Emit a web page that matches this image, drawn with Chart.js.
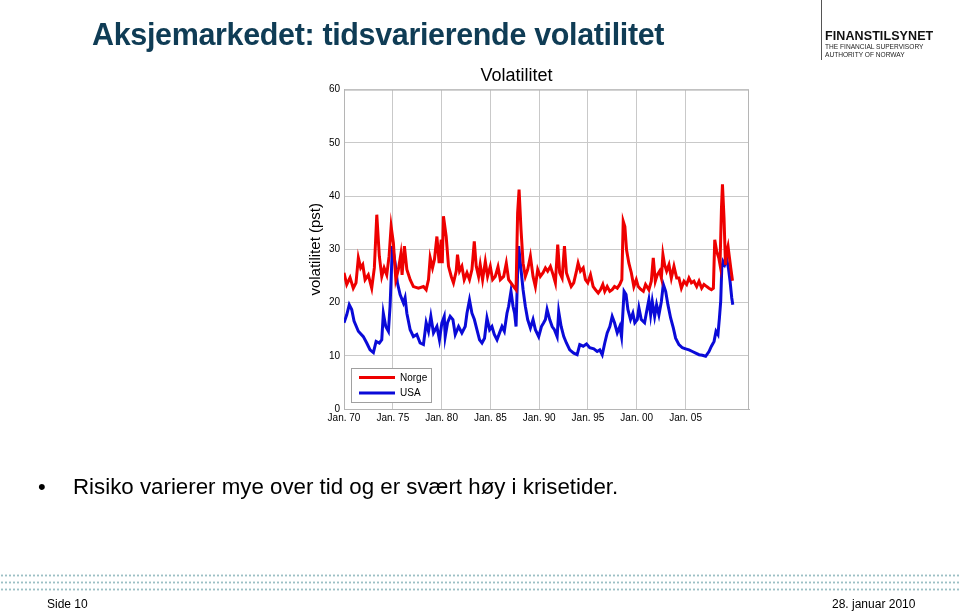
<!DOCTYPE html>
<html>
<head>
<meta charset="utf-8">
<title>Aksjemarkedet: tidsvarierende volatilitet</title>
<script src="https://cdn.jsdelivr.net/npm/chart.js@4/dist/chart.umd.min.js"></script>
<style>
  html, body { margin: 0; padding: 0; background: #fff; }
  body { width: 960px; height: 611px; position: relative; overflow: hidden; font-family: "Liberation Sans", Arial, sans-serif; }
  #wrap { position: absolute; left: 0; top: 0; width: 960px; height: 611px; }
  .abs { position: absolute; white-space: nowrap; }
  #title { left: 92px; top: 17px; font-size: 30.5px; font-weight: bold; color: #0f3c55; letter-spacing: -0.35px; }
  #logoLine { left: 821px; top: 0; width: 1px; height: 60px; background: #555; }
  #logo1 { left: 825px; top: 29px; font-size: 12.5px; font-weight: bold; letter-spacing: 0.1px; color: #111; }
  #logo2 { left: 825px; top: 43px; font-size: 6.6px; color: #222; line-height: 8px; }
  #bullet { left: 38px; top: 474px; font-size: 22px; }
  #bulletText { left: 73px; top: 474px; font-size: 22.3px; color: #000; }
  .dots { left: 0; width: 960px; height: 3px;
    background-image: radial-gradient(circle, #9cc0c5 1px, transparent 1.2px);
    background-size: 4px 3px; }
  #footL { left: 47px; top: 597px; font-size: 12px; }
  #footR { left: 832px; top: 597px; font-size: 12px; }
</style>
</head>
<body>
<div id="wrap"><canvas id="vol"></canvas></div>
<div class="abs" id="title">Aksjemarkedet: tidsvarierende volatilitet</div>
<div class="abs" id="logoLine"></div>
<div class="abs" id="logo1">FINANSTILSYNET</div>
<div class="abs" id="logo2">THE FINANCIAL SUPERVISORY<br>AUTHORITY OF NORWAY</div>
<div class="abs" id="bullet">•</div>
<div class="abs" id="bulletText">Risiko varierer mye over tid og er svært høy i krisetider.</div>
<div class="abs dots" style="top:574px"></div>
<div class="abs dots" style="top:581px"></div>
<div class="abs dots" style="top:588px"></div>
<div class="abs" id="footL">Side 10</div>
<div class="abs" id="footR">28. januar 2010</div>

<script>
// Norge, volatilitet (pst)
const norYears = [1970.00, 1970.28, 1970.62, 1970.95, 1971.23, 1971.47, 1971.71, 1971.92, 1972.16, 1972.49,
  1972.84, 1973.11, 1973.36, 1973.62, 1973.87, 1974.11, 1974.38, 1974.62, 1974.83, 1975.06,
  1975.31, 1975.57, 1975.82, 1975.95, 1976.19, 1976.44, 1976.78, 1977.11, 1977.63, 1978.14,
  1978.42, 1978.66, 1978.83, 1979.07, 1979.27, 1979.52, 1979.75, 1979.96, 1980.07, 1980.19,
  1980.47, 1980.71, 1980.99, 1981.22, 1981.50, 1981.63, 1981.84, 1982.08, 1982.32, 1982.60,
  1982.86, 1983.11, 1983.35, 1983.55, 1983.79, 1983.96, 1984.20, 1984.48, 1984.71, 1984.99,
  1985.23, 1985.50, 1985.78, 1986.02, 1986.36, 1986.63, 1986.87, 1987.11, 1987.38, 1987.63,
  1987.79, 1987.94, 1988.14, 1988.35, 1988.58, 1988.82, 1989.10, 1989.37, 1989.61, 1989.85,
  1990.12, 1990.40, 1990.64, 1990.87, 1991.15, 1991.43, 1991.66, 1991.90, 1992.10, 1992.35,
  1992.59, 1992.79, 1993.03, 1993.28, 1993.54, 1993.82, 1993.99, 1994.23, 1994.51, 1994.74,
  1994.98, 1995.26, 1995.53, 1995.77, 1996.05, 1996.28, 1996.52, 1996.72, 1996.97, 1997.24,
  1997.48, 1997.72, 1998.00, 1998.26, 1998.47, 1998.61, 1998.78, 1998.95, 1999.19, 1999.44,
  1999.70, 1999.95, 2000.15, 2000.39, 2000.67, 2000.90, 2001.24, 2001.49, 2001.69, 2001.90,
  2002.10, 2002.34, 2002.52, 2002.68, 2002.85, 2003.06, 2003.30, 2003.54, 2003.81, 2004.09,
  2004.32, 2004.57, 2004.84, 2005.11, 2005.35, 2005.60, 2005.86, 2006.14, 2006.38, 2006.65,
  2006.89, 2007.17, 2007.40, 2007.65, 2007.85, 2007.99, 2008.19, 2008.40, 2008.53, 2008.68,
  2008.78, 2008.94, 2009.09, 2009.22, 2009.35, 2009.50, 2009.63, 2009.81];
const norVals = [25.6, 23.4, 24.7, 22.7, 23.7, 28.4, 26.5, 27.1, 24.3, 25.2,
  22.7, 26.5, 36.5, 28.7, 24.9, 26.5, 25.2, 28.7, 34.3, 31.2,
  24.3, 26.2, 29.0, 25.2, 30.6, 26.2, 24.3, 23.0, 22.7, 23.0,
  22.4, 24.3, 28.4, 26.5, 28.1, 32.4, 27.4, 31.8, 27.4, 36.2,
  32.4, 26.8, 24.9, 23.7, 25.9, 29.0, 25.9, 26.8, 24.3, 25.6,
  24.3, 26.2, 31.5, 26.8, 24.9, 27.1, 24.3, 27.7, 24.9, 26.8,
  24.3, 24.9, 26.7, 24.3, 24.9, 27.4, 24.3, 23.7, 23.0, 22.4,
  36.8, 41.2, 33.7, 27.4, 24.9, 26.2, 28.7, 24.9, 23.0, 26.2,
  24.9, 25.6, 26.5, 25.9, 26.8, 25.2, 23.7, 30.9, 25.6, 24.6,
  30.6, 25.6, 24.3, 23.0, 23.7, 25.9, 27.4, 25.9, 26.5, 24.3,
  23.7, 25.2, 23.0, 22.4, 21.8, 22.4, 23.4, 22.1, 23.0, 22.1,
  22.4, 23.0, 22.7, 23.4, 24.3, 35.3, 34.3, 29.9, 27.4, 25.6,
  23.0, 24.3, 23.0, 22.5, 22.1, 23.4, 22.4, 24.0, 28.4, 24.0,
  25.2, 25.9, 24.6, 29.0, 27.1, 25.9, 27.1, 24.6, 26.8, 24.6,
  24.6, 22.7, 24.0, 23.4, 24.6, 23.7, 24.0, 23.0, 24.0, 22.7,
  23.4, 23.0, 22.7, 22.4, 22.7, 31.8, 29.6, 28.4, 27.1, 37.8,
  42.2, 35.9, 27.1, 29.6, 30.6, 28.4, 26.5, 24.1];

// USA, volatilitet (pst)
const usaYears = [1970.00, 1970.28, 1970.54, 1970.79, 1971.03, 1971.47, 1971.98, 1972.33, 1972.67, 1973.01,
  1973.29, 1973.62, 1973.87, 1974.03, 1974.28, 1974.55, 1974.72, 1974.96, 1975.24, 1975.47,
  1975.75, 1976.09, 1976.26, 1976.44, 1976.78, 1977.11, 1977.46, 1977.80, 1978.14, 1978.42,
  1978.66, 1978.90, 1979.17, 1979.52, 1979.78, 1980.03, 1980.27, 1980.37, 1980.61, 1980.88,
  1981.16, 1981.40, 1981.74, 1982.08, 1982.42, 1982.60, 1982.86, 1983.11, 1983.36, 1983.62,
  1983.89, 1984.14, 1984.40, 1984.65, 1984.92, 1985.16, 1985.40, 1985.68, 1985.94, 1986.19,
  1986.43, 1986.70, 1986.87, 1987.11, 1987.32, 1987.48, 1987.63, 1987.79, 1987.90, 1988.07,
  1988.35, 1988.58, 1988.82, 1989.10, 1989.37, 1989.61, 1989.95, 1990.23, 1990.46, 1990.64,
  1990.81, 1991.08, 1991.33, 1991.56, 1991.84, 1992.00, 1992.25, 1992.52, 1992.79, 1993.13,
  1993.54, 1993.89, 1994.16, 1994.51, 1994.85, 1995.18, 1995.60, 1995.94, 1996.21, 1996.46,
  1996.72, 1996.97, 1997.24, 1997.48, 1997.72, 1998.00, 1998.26, 1998.44, 1998.70, 1998.90,
  1999.09, 1999.36, 1999.60, 1999.80, 2000.05, 2000.22, 2000.46, 2000.80, 2001.01, 2001.24,
  2001.42, 2001.59, 2001.83, 2002.03, 2002.27, 2002.52, 2002.72, 2002.96, 2003.19, 2003.47,
  2003.75, 2003.98, 2004.32, 2004.67, 2005.01, 2005.35, 2005.70, 2006.04, 2006.38, 2006.72,
  2007.06, 2007.40, 2007.65, 2007.92, 2008.12, 2008.32, 2008.47, 2008.60, 2008.71, 2008.84,
  2009.01, 2009.22, 2009.39, 2009.56, 2009.73, 2009.84];
const usaVals = [16.2, 17.7, 19.6, 18.7, 16.5, 14.6, 13.6, 12.4, 11.1, 10.6,
  12.7, 12.4, 13.0, 18.0, 15.5, 14.6, 19.3, 30.6, 27.4, 23.7,
  21.5, 19.9, 20.9, 18.0, 14.9, 13.6, 14.0, 12.4, 12.1, 16.2,
  14.6, 17.4, 14.3, 15.5, 13.0, 16.2, 17.4, 13.6, 16.2, 17.4,
  16.8, 14.0, 15.5, 14.3, 15.5, 18.0, 20.5, 18.0, 16.8, 14.9,
  13.0, 12.4, 13.3, 17.1, 14.9, 15.5, 14.0, 13.0, 14.3, 15.5,
  14.6, 18.0, 19.3, 22.1, 19.3, 18.0, 15.5, 25.6, 30.6, 27.4,
  22.4, 19.3, 16.8, 15.2, 16.8, 14.9, 13.6, 15.5, 16.2, 16.8,
  18.7, 16.8, 15.5, 14.9, 13.6, 18.3, 15.5, 13.6, 12.4, 11.1,
  10.5, 10.2, 12.1, 11.8, 12.2, 11.5, 11.3, 10.8, 11.1, 10.2,
  12.4, 14.3, 15.5, 17.4, 16.2, 14.3, 15.5, 13.6, 22.1, 21.5,
  18.7, 16.8, 18.0, 16.2, 16.8, 19.0, 16.8, 16.2, 18.3, 20.5,
  17.7, 20.2, 17.4, 19.6, 17.7, 20.2, 23.4, 22.1, 19.6, 17.1,
  15.2, 13.3, 12.1, 11.5, 11.3, 11.1, 10.8, 10.5, 10.2, 10.1,
  9.9, 10.8, 11.8, 12.7, 14.6, 14.0, 17.1, 20.2, 26.5, 27.7,
  27.1, 28.1, 26.5, 24.0, 20.9, 19.6];

const xTicks = [1970, 1975, 1980, 1985, 1990, 1995, 2000, 2005];
const yTicks = [0, 10, 20, 30, 40, 50, 60];

const FONT = '"Liberation Sans", Arial, sans-serif';
const GRID = '#c9c9c9';

function pts(xs, ys) {
  return xs.map((x, i) => ({ x: x, y: ys[i] }));
}

// outer frame round the plot
const frame = {
  id: 'frame',
  beforeDatasetsDraw(chart) {
    const { ctx, chartArea: a } = chart;
    ctx.save();
    ctx.strokeStyle = '#b5b5b5';
    ctx.lineWidth = 1;
    ctx.strokeRect(a.left + 0.5, a.top + 0.5, a.right - a.left - 1, a.bottom - a.top);
    ctx.restore();
  }
};

// boxed legend in the lower left corner of the plot
const boxLegend = {
  id: 'boxLegend',
  afterDraw(chart) {
    const { ctx, chartArea: a } = chart;
    const x = a.left + 7, y = a.bottom - 41;
    ctx.save();
    ctx.fillStyle = '#fff';
    ctx.fillRect(x, y, 81, 35);
    ctx.strokeStyle = '#a0a0a0';
    ctx.lineWidth = 1;
    ctx.strokeRect(x + 0.5, y + 0.5, 80, 34);
    ctx.font = '10px ' + FONT;
    ctx.textBaseline = 'middle';
    chart.data.datasets.forEach((ds, i) => {
      const ly = y + 9.5 + i * 15.5;
      ctx.strokeStyle = ds.borderColor;
      ctx.lineWidth = 3;
      ctx.beginPath();
      ctx.moveTo(x + 8, ly);
      ctx.lineTo(x + 44, ly);
      ctx.stroke();
      ctx.fillStyle = '#000';
      ctx.fillText(ds.label, x + 49, ly + 0.5);
    });
    ctx.restore();
  }
};

new Chart(document.getElementById('vol'), {
  type: 'line',
  data: {
    datasets: [
      { label: 'Norge', data: pts(norYears, norVals), borderColor: '#ee0000', borderWidth: 3, pointRadius: 0, tension: 0 },
      { label: 'USA', data: pts(usaYears, usaVals), borderColor: '#0a0ad8', borderWidth: 3, pointRadius: 0, tension: 0 }
    ]
  },
  options: {
    responsive: true,
    maintainAspectRatio: false,
    animation: false,
    layout: { padding: { left: 284, right: 211, top: 65, bottom: 182 } },
    plugins: {
      legend: { display: false },
      tooltip: { enabled: false },
      title: {
        display: true, text: 'Volatilitet', color: '#000',
        font: { family: FONT, size: 18, weight: 'normal' },
        padding: { top: 0, bottom: 3 }
      }
    },
    scales: {
      x: {
        type: 'linear', min: 1970, max: 2011.5,
        afterBuildTicks: (s) => { s.ticks = xTicks.map(v => ({ value: v })); },
        afterFit: (s) => { s.height = 20; },
        grid: { color: GRID, drawTicks: false },
        border: { color: '#b5b5b5' },
        ticks: {
          padding: 3, color: '#000', maxRotation: 0, autoSkip: false,
          font: { family: FONT, size: 10 },
          callback: (v) => 'Jan. ' + String(v).slice(2)
        }
      },
      y: {
        min: 0, max: 60,
        afterBuildTicks: (s) => { s.ticks = yTicks.map(v => ({ value: v })); },
        afterFit: (s) => { s.width = 60; },
        grid: { color: GRID, drawTicks: false },
        border: { color: '#b5b5b5' },
        ticks: { padding: 4, color: '#000', font: { family: FONT, size: 10 } },
        title: {
          display: true, text: 'volatilitet (pst)', color: '#000',
          font: { family: FONT, size: 15 },
          padding: { top: 23, bottom: 0 }
        }
      }
    }
  },
  plugins: [frame, boxLegend]
});
</script>
</body>
</html>
